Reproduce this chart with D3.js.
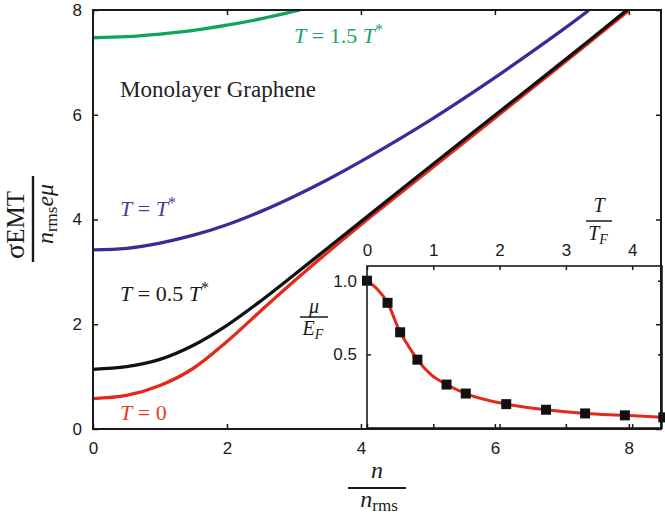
<!DOCTYPE html>
<html><head><meta charset="utf-8">
<script src="https://cdn.jsdelivr.net/npm/d3@7"></script>
<style>
body{margin:0;background:#fff}
svg{display:block}
</style></head><body>
<svg id="chart" width="665" height="518"></svg>
<script>
// Effective-medium conductivity of monolayer graphene vs. carrier density,
// for four temperatures, with an inset of the chemical potential vs. T.

// ---- main panel data ----
const densityGrid      = [0, 0.5, 1, 1.5, 2, 2.5, 3, 3.5, 4, 5, 6, 7, 8];
const sigmaT0          = [0.58, 0.64, 0.83, 1.16, 1.67, 2.25, 2.82, 3.37, 3.9, 4.92, 5.94, 6.96, 7.99];
const sigmaHalfTstar   = [1.14, 1.19, 1.33, 1.6, 1.98, 2.44, 2.94, 3.45, 3.96, 4.98, 5.99, 7.0, 8.03];
const densityGridTstar = [0, 0.5, 1, 1.5, 2, 2.5, 3, 3.5, 4, 5, 6, 7, 7.4];
const sigmaTstar       = [3.42, 3.45, 3.55, 3.70, 3.90, 4.15, 4.44, 4.76, 5.11, 5.87, 6.71, 7.61, 7.99];
const densityGridHot   = [0, 0.5, 1, 1.5, 2, 2.5, 3.09];
const sigmaOneHalf     = [7.47, 7.49, 7.54, 7.61, 7.71, 7.83, 8.0];
const xTicks = [0, 2, 4, 6, 8];
const yTicks = [0, 2, 4, 6, 8];

// ---- inset data: mu/E_F vs T/T_F ----
const tempPoints = [0, 0.31, 0.50, 0.76, 1.20, 1.49, 2.10, 2.70, 3.29, 3.89, 4.47];
const muPoints   = [1.0, 0.85, 0.65, 0.464, 0.295, 0.234, 0.162, 0.124, 0.099, 0.086, 0.072];
const tempCurve  = [0, 0.15, 0.31, 0.50, 0.62, 0.76, 0.97, 1.20, 1.49, 2.10, 2.70, 3.29, 3.89, 4.47];
const muCurve    = [1.0, 0.945, 0.85, 0.65, 0.56, 0.464, 0.36, 0.295, 0.234, 0.162, 0.124, 0.099, 0.086, 0.072];
const insetXTicks = [0, 1, 2, 3, 4];
const insetYTicks = [0.5, 1.0];

const colT0 = "#e2291c", colHalf = "#111111", colTstar = "#3a2b98", colHot = "#0ea55a";
const serif = "'Liberation Serif','DejaVu Serif',serif";
const sans = "'Liberation Sans',Arial,sans-serif";
const ink = "#1a1a1a";

const svg = d3.select("#chart");

// ---- main panel ----
const x = d3.scaleLinear().domain([0, 8.48]).range([93, 661]);
const y = d3.scaleLinear().domain([0, 8]).range([429, 10]);

svg.append("clipPath").attr("id", "mainClip").append("rect")
  .attr("x", x(0)).attr("y", y(8)).attr("width", x(8.48) - x(0)).attr("height", y(0) - y(8));

const line = d3.line().x(d => x(d[0])).y(d => y(d[1])).curve(d3.curveCatmullRom.alpha(0.5));
const series = [
  [densityGridHot, sigmaOneHalf, colHot],
  [densityGridTstar, sigmaTstar, colTstar],
  [densityGrid, sigmaT0, colT0],
  [densityGrid, sigmaHalfTstar, colHalf]
];
const curves = svg.append("g").attr("clip-path", "url(#mainClip)");
series.forEach(([xs, ys, c]) => {
  curves.append("path").datum(xs.map((v, i) => [v, ys[i]]))
    .attr("d", line).attr("fill", "none").attr("stroke", c).attr("stroke-width", 3.3);
});

function styleAxis(g, fs) {
  g.select(".domain").remove();
  g.selectAll(".tick line").attr("stroke", ink).attr("stroke-width", 1.5);
  g.selectAll(".tick text").attr("font-family", sans).attr("font-size", fs).attr("fill", ink);
}
svg.append("g").attr("transform", `translate(0,${y(0)})`)
  .call(d3.axisBottom(x).tickValues(xTicks).tickFormat(d3.format("d")).tickSize(-5).tickPadding(13))
  .call(g => styleAxis(g, 17));
svg.append("g").attr("transform", `translate(0,${y(8)})`)
  .call(d3.axisTop(x).tickValues(xTicks).tickFormat("").tickSize(-5))
  .call(g => styleAxis(g, 17));
svg.append("g").attr("transform", `translate(${x(0)},0)`)
  .call(d3.axisLeft(y).tickValues(yTicks).tickFormat(d3.format("d")).tickSize(-5).tickPadding(11))
  .call(g => styleAxis(g, 17));
svg.append("g").attr("transform", `translate(${x(8.48)},0)`)
  .call(d3.axisRight(y).tickValues(yTicks).tickFormat("").tickSize(-5))
  .call(g => styleAxis(g, 17));
svg.append("rect").attr("x", x(0)).attr("y", y(8)).attr("width", x(8.48) - x(0)).attr("height", y(0) - y(8))
  .attr("fill", "none").attr("stroke", ink).attr("stroke-width", 2);

// ---- text helpers ----
function mathText(parent, px, py, parts, opts = {}) {
  const t = parent.append("text").attr("x", px).attr("y", py)
    .attr("font-family", serif).attr("font-size", opts.fs || 22)
    .attr("fill", opts.fill || ink).attr("text-anchor", opts.anchor || "start");
  parts.forEach(p => {
    const s = t.append("tspan").text(p.t);
    if (p.i) s.attr("font-style", "italic");
    if (p.dy) s.attr("dy", p.dy);
    if (p.fs) s.attr("font-size", p.fs);
  });
  return t;
}

mathText(svg, 120, 97, [{t: "Monolayer Graphene"}], {fill: "#222", fs: 23});
mathText(svg, 294, 43, [{t: "T", i: 1}, {t: " = 1.5 "}, {t: "T", i: 1}, {t: "*", dy: -8, fs: 16}], {fill: "#1aa563"});
mathText(svg, 120, 216, [{t: "T", i: 1}, {t: " = "}, {t: "T", i: 1}, {t: "*", dy: -8, fs: 16}], {fill: "#4a3aa2"});
mathText(svg, 120, 301, [{t: "T", i: 1}, {t: " = 0.5 "}, {t: "T", i: 1}, {t: "*", dy: -8, fs: 16}], {fill: "#1a1a1a"});
mathText(svg, 120, 420, [{t: "T", i: 1}, {t: " = 0"}], {fill: "#e63a2a"});

// y-axis label: sigma_EMT / (n_rms e mu), rotated
const yl = svg.append("g").attr("transform", "translate(33,219) rotate(-90)");
yl.append("line").attr("x1", -43).attr("x2", 43).attr("y1", 0).attr("y2", 0)
  .attr("stroke", ink).attr("stroke-width", 2.4);
mathText(yl, -6, -9, [{t: "σ", fs: 28}, {t: "EMT", fs: 25}], {anchor: "middle"});
mathText(yl, 5, 20, [{t: "n", i: 1}, {t: "rms", fs: 17, dy: 4}, {t: "e", i: 1, dy: -4}, {t: "μ", i: 1}], {anchor: "middle", fs: 24});

// x-axis label: n / n_rms
mathText(svg, 377, 478, [{t: "n", i: 1}], {anchor: "middle", fs: 24});
svg.append("line").attr("x1", 348).attr("x2", 406).attr("y1", 488).attr("y2", 488)
  .attr("stroke", ink).attr("stroke-width", 2.2);
mathText(svg, 379, 507, [{t: "n", i: 1}, {t: "rms", fs: 17, dy: 4}], {anchor: "middle", fs: 24});

// ---- inset ----
const ix = d3.scaleLinear().domain([0, 4.45]).range([367, 662]);
const iy = d3.scaleLinear().domain([0, 1.1]).range([428, 266]);

svg.append("clipPath").attr("id", "insetClip").append("rect")
  .attr("x", ix(0)).attr("y", iy(1.1)).attr("width", ix(4.45) - ix(0)).attr("height", iy(0) - iy(1.1));

const iline = d3.line().x(d => ix(d[0])).y(d => iy(d[1])).curve(d3.curveMonotoneX);
svg.append("path").datum(tempCurve.map((v, i) => [v, muCurve[i]]))
  .attr("clip-path", "url(#insetClip)")
  .attr("d", iline).attr("fill", "none").attr("stroke", colT0).attr("stroke-width", 3);

svg.append("g").selectAll("rect").data(tempPoints.map((v, i) => [v, muPoints[i]])).join("rect")
  .attr("x", d => ix(d[0]) - 5).attr("y", d => iy(d[1]) - 5)
  .attr("width", 10).attr("height", 10).attr("fill", "#111");

svg.append("g").attr("transform", `translate(0,${iy(1.1)})`)
  .call(d3.axisTop(ix).tickValues(insetXTicks).tickFormat(d3.format("d")).tickSize(-4).tickPadding(10))
  .call(g => styleAxis(g, 17));
svg.append("g").attr("transform", `translate(0,${iy(0)})`)
  .call(d3.axisBottom(ix).tickValues(insetXTicks).tickFormat("").tickSize(-4))
  .call(g => styleAxis(g, 17));
svg.append("g").attr("transform", `translate(${ix(0)},0)`)
  .call(d3.axisLeft(iy).tickValues(insetYTicks).tickFormat(d3.format(".1f")).tickSize(-4).tickPadding(10))
  .call(g => styleAxis(g, 17));
svg.append("g").attr("transform", `translate(${ix(4.45)},0)`)
  .call(d3.axisRight(iy).tickValues(insetYTicks).tickFormat("").tickSize(-4))
  .call(g => styleAxis(g, 17));
svg.append("rect").attr("x", ix(0)).attr("y", iy(1.1)).attr("width", ix(4.45) - ix(0)).attr("height", iy(0) - iy(1.1))
  .attr("fill", "none").attr("stroke", ink).attr("stroke-width", 1.6);

// inset axis labels
mathText(svg, 599, 212, [{t: "T", i: 1}], {anchor: "middle", fs: 20});
svg.append("line").attr("x1", 586).attr("x2", 612).attr("y1", 221).attr("y2", 221)
  .attr("stroke", ink).attr("stroke-width", 1.5);
mathText(svg, 598, 240, [{t: "T", i: 1}, {t: "F", i: 1, fs: 14, dy: 4}], {anchor: "middle", fs: 20});

mathText(svg, 314, 313, [{t: "μ", i: 1}], {anchor: "middle", fs: 20});
svg.append("line").attr("x1", 300).attr("x2", 328).attr("y1", 317).attr("y2", 317)
  .attr("stroke", ink).attr("stroke-width", 1.5);
mathText(svg, 313, 335, [{t: "E", i: 1}, {t: "F", i: 1, fs: 14, dy: 4}], {anchor: "middle", fs: 20});
</script>
</body></html>
